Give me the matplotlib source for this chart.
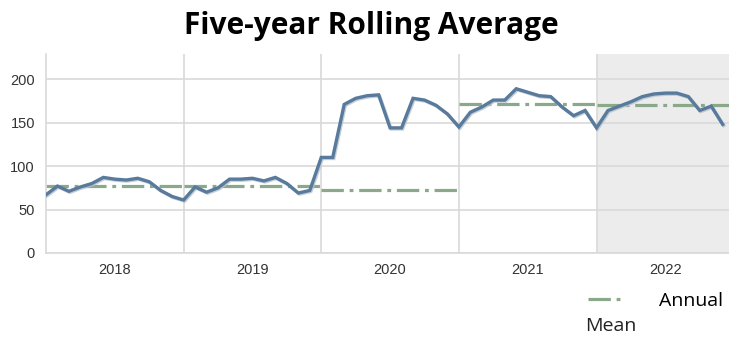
import numpy as np
import matplotlib.pyplot as plt
import matplotlib.patheffects as pe

years = ["2018", "2019", "2020", "2021", "2022"]

rolling_avg = [
    67, 77, 71, 76, 80, 87, 85, 84, 86, 82, 72, 65,
    61, 76, 70, 75, 85, 85, 86, 83, 87, 80, 69, 72,
    110, 110, 171, 178, 181, 182, 144, 144, 178, 176, 170, 160,
    145, 162, 168, 176, 176, 189, 185, 181, 180, 168, 158, 164,
    144, 164, 169, 174, 180, 183, 184, 184, 180, 164, 169, 148,
]

annual_mean = [77, 77, 72, 171, 170]

y_ticks = [0, 50, 100, 150, 200]

fig = plt.figure(figsize=(7.29, 3.43), dpi=100)
ax = fig.add_axes([46 / 729, 1 - 253 / 343, 683 / 729, 199 / 343])

months = np.arange(len(rolling_avg))

# shaded final year
ax.axvspan(48, 60, color="#ececec", zorder=0, lw=0)

# annual mean steps
mean_color = "#8aa98b"
for i, m in enumerate(annual_mean):
    ax.plot([12 * i, 12 * i + 12], [m, m], color=mean_color, lw=2.3,
            dashes=(7, 1.8, 1.2, 1.8), zorder=2,
            label="Annual" if i == 0 else None)

ax.plot(months, rolling_avg, color="#587a9c", lw=2.4, zorder=3,
        solid_joinstyle="miter",
        path_effects=[pe.SimpleLineShadow(offset=(0.8, -0.8), shadow_color="#b8c2cc", alpha=0.8),
                      pe.Normal()])

ax.set_xlim(0, 59.55)
ax.set_ylim(0, 229)

ax.set_xticks([12, 24, 36, 48])
ax.set_xticklabels([])
ax.set_xticks([6, 18, 30, 42, 54], minor=True)
ax.set_xticklabels(years, minor=True, fontsize=10.5, color="#333333",
                   family="Liberation Sans")
ax.tick_params(axis="x", which="both", length=0, pad=7)

ax.set_yticks(y_ticks)
ax.set_yticklabels([str(t) for t in y_ticks], fontsize=10.5, color="#333333",
                   family="Liberation Sans")
ax.tick_params(axis="y", length=0, pad=8)

ax.grid(True, which="major", color="#d9d9d9", lw=1.2, zorder=1)
ax.set_axisbelow(True)
for side in ["top", "right"]:
    ax.spines[side].set_visible(False)
ax.spines["left"].set_color("#d9d9d9")
ax.spines["bottom"].set_color("#d9d9d9")
ax.spines["left"].set_linewidth(1.2)
ax.spines["bottom"].set_linewidth(1.2)

fig.text(0.51, 0.925, "Five-year Rolling Average", ha="center", va="center",
         fontsize=21.5, fontweight="bold", family="Open Sans")

leg = fig.legend(loc="center left", bbox_to_anchor=(588 / 729, 1 - 301 / 343),
                 frameon=False, prop={"family": "Open Sans", "size": 14},
                 handlelength=1.65, handletextpad=2.0, borderaxespad=0,
                 borderpad=0)
fig.text(585 / 729, 1 - 326 / 343, "Mean", ha="left", va="center",
         fontsize=14, family="Open Sans", color="#222222")

fig.savefig("out.png", dpi=100)
